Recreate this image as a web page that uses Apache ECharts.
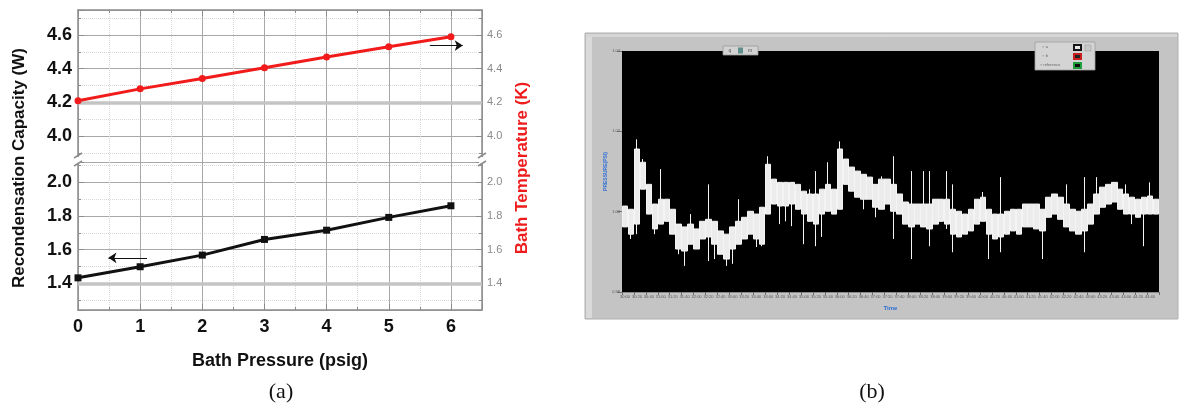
<!DOCTYPE html>
<html><head><meta charset="utf-8">
<script src="https://cdn.jsdelivr.net/npm/echarts@6/dist/echarts.min.js"></script>
<style>html,body{margin:0;padding:0;background:#fff}#c{width:1184px;height:405px}</style>
</head><body><div id="c"></div>
<script>
// ---------- Panel (a) data ----------
const pressure = [0, 1, 2, 3, 4, 5, 6];
const bathTemperature = [4.21, 4.28, 4.342, 4.405, 4.469, 4.53, 4.589];
const recondensation = [1.433, 1.499, 1.568, 1.661, 1.716, 1.792, 1.861];
const upperRange = [3.846, 4.748];
const lowerRange = [1.242, 2.121];
const arrowRight = [[5.66, 4.537], [6.19, 4.537]];
const arrowLeft = [[1.11, 1.552], [0.49, 1.552]];
const heavyGridUpper = 4.2, heavyGridLower = 1.4;

// ---------- Panel (b) data (binned trace: dense band + spikes) ----------
const bandLow = [0.9962,0.9944,0.9969,1.0056,0.9994,0.9957,0.9969,0.9976,0.9944,0.9907,
 0.9902,0.9919,0.9907,0.9932,0.9937,0.9919,0.9894,0.9882,0.9907,0.9919,
 0.9932,0.9944,0.9932,0.9919,0.9994,1.0019,1.0014,1.0014,1.0019,1.0006,
 0.9994,0.9976,0.9969,0.9994,1.0001,0.9994,1.0006,1.0068,1.0051,1.0036,
 1.0031,1.0031,1.0011,1.0006,1.0019,1.0001,0.9994,0.9969,0.9962,0.9969,
 0.9962,0.9957,0.9969,0.9976,0.9969,0.9944,0.9937,0.9944,0.9952,0.9969,
 0.9976,0.9944,0.9932,0.9937,0.9944,0.9952,0.9944,0.9962,0.9962,0.9957,
 0.9952,0.9986,0.9994,0.9981,0.9962,0.9952,0.9944,0.9952,0.9969,0.9994,
 1.0011,1.0019,1.0024,1.0006,0.9994,0.9994,0.9986,0.9994,0.9994,0.9994];
const bandHigh = [1.0014,1.0006,1.0156,1.0123,1.0068,1.0019,1.0031,1.0031,1.0006,0.9969,
 0.9962,0.9969,0.9957,0.9976,0.9981,0.9976,0.9952,0.9944,0.9962,0.9976,
 0.9986,1.0001,0.9994,1.0011,1.0118,1.0081,1.0073,1.0073,1.0073,1.0068,
 1.0051,1.0044,1.0044,1.0056,1.0068,1.0056,1.0156,1.0131,1.0111,1.0101,
 1.0093,1.0086,1.0068,1.0081,1.0081,1.0068,1.0044,1.0024,1.0019,1.0019,
 1.0019,1.0019,1.0031,1.0031,1.0031,1.0006,1.0001,0.9994,1.0006,1.0031,
 1.0036,1.0006,0.9994,0.9994,1.0001,1.0006,1.0006,1.0019,1.0019,1.0019,
 1.0006,1.0036,1.0044,1.0036,1.0019,1.0006,1.0001,1.0006,1.0019,1.0044,
 1.0061,1.0068,1.0073,1.0056,1.0044,1.0036,1.0031,1.0036,1.0039,1.0031];
const spikeLows = [[1,0.9932],[2,0.9944],[5,0.9944],[9,0.9894],[10,0.9865],[14,0.9877],[15,0.9882],
 [17,0.9865],[18,0.9870],[22,0.9912],[23,0.9914],[26,0.9969],[27,0.9976],[28,0.9964],[30,0.9919],
 [32,0.9914],[33,0.9937],[40,1.0006],[42,0.9986],[45,0.9932],[48,0.9882],[51,0.9914],[54,0.9957],
 [55,0.9899],[61,0.9882],[63,0.9899],[70,0.9882],[77,0.9899],[85,0.9969],[87,0.9914]];
const spikeHighs = [[2,1.0180],[3,1.0131],[6,1.0106],[11,0.9994],[14,1.0068],[19,1.0031],[24,1.0138],
 [31,1.0056],[32,1.0101],[34,1.0123],[36,1.0175],[43,1.0088],[45,1.0138],[48,1.0101],[50,1.0101],
 [51,1.0101],[54,1.0101],[55,1.0068],[60,1.0049],[63,1.0086],[74,1.0068],[77,1.0086],[79,1.0086],
 [84,1.0068],[88,1.0073]];
const pressureTicks = [0.98, 1.00, 1.02, 1.04];
const timeStart = 10 * 3600 + 30 * 60, timeStep = 10;

// ---------- build ----------
const timeLabels = bandLow.map((_, i) => {
  const s = timeStart + i * timeStep;
  const p = n => String(n).padStart(2, '0');
  return p(Math.floor(s / 60) % 60) + ':' + p(s % 60);
});
const sl = {}, sh = {};
spikeLows.forEach(([i, v]) => sl[i] = v);
spikeHighs.forEach(([i, v]) => sh[i] = v);
const candles = bandLow.map((lo, i) => {
  const hi = bandHigh[i];
  return [lo, hi, sl[i] !== undefined ? sl[i] : lo, sh[i] !== undefined ? sh[i] : hi];
});

const FONT = 'Liberation Sans';
const frameColor = '#8c8c8c';
const fmt02 = v => (Math.abs(v * 5 - Math.round(v * 5)) < 1e-6 ? v.toFixed(1) : '');
const fmtInt = v => (Math.abs(v - Math.round(v)) < 1e-6 ? String(Math.round(v)) : '');

function xA(grid, pos, labels) {
  return {
    gridIndex: grid, type: 'value', min: 0, max: 6.5, interval: 1, position: pos,
    axisLine: { show: true, onZero: false, lineStyle: { color: frameColor, width: 1.5 } },
    axisTick: { show: true, inside: true, length: 6, lineStyle: { color: frameColor } },
    minorTick: { show: true, splitNumber: 2, length: 3, lineStyle: { color: frameColor } },
    axisLabel: labels ? { show: true, formatter: fmtInt, showMaxLabel: false, fontFamily: FONT, fontWeight: 'bold', fontSize: 18, color: '#111', margin: 8 } : { show: false },
    splitLine: { show: true, lineStyle: { color: '#a8a8a8', width: 1 } },
    minorSplitLine: { show: true, lineStyle: { color: '#d8d8d8', type: 'dotted' } },
    name: labels ? 'Bath Pressure (psig)' : '', nameLocation: 'middle', nameGap: 42,
    nameTextStyle: { fontFamily: FONT, fontWeight: 'bold', fontSize: 18, color: '#111' }
  };
}
function yA(grid, pos, range, left) {
  return {
    gridIndex: grid, type: 'value', position: pos, min: range[0], max: range[1],
    minInterval: 0.2, maxInterval: 0.2,
    axisLine: { show: true, onZero: false, lineStyle: { color: frameColor, width: 1.5 } },
    axisTick: { show: true, inside: true, length: 6, lineStyle: { color: frameColor } },
    minorTick: { show: true, splitNumber: 2, length: 3, lineStyle: { color: frameColor } },
    axisLabel: left
      ? { formatter: fmt02, fontFamily: FONT, fontWeight: 'bold', fontSize: 18, color: '#111', margin: 6 }
      : { formatter: fmt02, fontFamily: FONT, fontSize: 11, color: '#8a8a8a', margin: 5 },
    splitLine: { show: left, lineStyle: { color: '#a8a8a8', width: 1 } },
    minorSplitLine: { show: left, lineStyle: { color: '#d8d8d8', type: 'dotted' } }
  };
}

const breakMarks = [];
[78, 482].forEach(x => {
  breakMarks.push({ type: 'rect', shape: { x: x - 3, y: 157, width: 6, height: 7 }, style: { fill: '#fff' }, z: 50 });
  breakMarks.push({ type: 'line', shape: { x1: x - 4, y1: 158, x2: x + 4, y2: 153 }, style: { stroke: frameColor, lineWidth: 1.5 }, z: 51 });
  breakMarks.push({ type: 'line', shape: { x1: x - 4, y1: 166, x2: x + 4, y2: 161 }, style: { stroke: frameColor, lineWidth: 1.5 }, z: 51 });
});

function txt(x, y, text, font, fill, rot) {
  return { type: 'text', x: x, y: y, rotation: rot || 0, z: 60,
    style: { text: text, font: font, fill: fill, textAlign: 'center', textVerticalAlign: 'middle', align: 'center', verticalAlign: 'middle' } };
}

const graphics = [
  // panel (b) frame
  { type: 'rect', shape: { x: 585, y: 33, width: 593, height: 286 }, style: { fill: '#c4c4c4', stroke: '#b0b0b0', lineWidth: 1 }, z: -10 },
  { type: 'rect', shape: { x: 586, y: 34, width: 6, height: 284 }, style: { fill: '#dadada' }, z: -9 },
  { type: 'rect', shape: { x: 586, y: 34, width: 591, height: 3 }, style: { fill: '#d6d6d6' }, z: -9 },
  // small toolbar
  { type: 'rect', shape: { x: 723, y: 46, width: 35, height: 9 }, style: { fill: '#d2d2d2', stroke: '#9a9a9a', lineWidth: 0.8 }, z: 40 },
  { type: 'rect', shape: { x: 738, y: 47.5, width: 5, height: 6 }, style: { fill: '#5f8f8a' }, z: 41 },
  txt(730, 51, 'q', '5px ' + FONT, '#555'),
  txt(750, 51, 'm', '5px ' + FONT, '#555'),
  // legend box
  { type: 'rect', shape: { x: 1035, y: 42, width: 60, height: 28 }, style: { fill: '#d4d4d4', stroke: '#a0a0a0', lineWidth: 0.8 }, z: 40 },
  { type: 'rect', shape: { x: 1073, y: 44, width: 9, height: 7 }, style: { fill: '#151515' }, z: 41 },
  { type: 'rect', shape: { x: 1075, y: 46, width: 5, height: 3 }, style: { fill: '#e8e8e8' }, z: 42 },
  { type: 'rect', shape: { x: 1073, y: 53, width: 9, height: 7 }, style: { fill: '#c81e1e' }, z: 41 },
  { type: 'rect', shape: { x: 1075, y: 55, width: 5, height: 3 }, style: { fill: '#222' }, z: 42 },
  { type: 'rect', shape: { x: 1073, y: 62, width: 9, height: 7 }, style: { fill: '#1f9e3c' }, z: 41 },
  { type: 'rect', shape: { x: 1075, y: 64, width: 5, height: 3 }, style: { fill: '#111' }, z: 42 },
  { type: 'rect', shape: { x: 1085, y: 45, width: 6, height: 6 }, style: { fill: '#c8c8c8', stroke: '#999', lineWidth: 0.5 }, z: 41 },
  txt(1045, 47, '○ a', '4px ' + FONT, '#666'),
  txt(1045, 56, '○ b', '4px ' + FONT, '#666'),
  txt(1050, 65, '○ reference', '4px ' + FONT, '#666'),
  // titles and captions
  txt(19, 168, 'Recondensation Capacity (W)', 'bold 17px ' + FONT, '#111', Math.PI / 2),
  txt(522, 168, 'Bath Temperature (K)', 'bold 17px ' + FONT, '#ee1c1c', Math.PI / 2),
  txt(281, 392, '(a)', '22px "Liberation Serif"', '#111'),
  txt(872, 392, '(b)', '22px "Liberation Serif"', '#111')
].concat(breakMarks);

const heavyLine = v => ({
  silent: true, symbol: 'none', z: 1, label: { show: false },
  lineStyle: { color: '#c4c4c4', width: 3.5, type: 'solid' },
  data: [{ yAxis: v }]
});
const arrowSeries = (xi, yi, seg) => ({
  type: 'lines', coordinateSystem: 'cartesian2d', xAxisIndex: xi, yAxisIndex: yi, z: 8,
  symbol: ['none', 'arrow'], symbolSize: [6, 8], silent: true,
  lineStyle: { color: '#111', width: 1, opacity: 1 },
  data: [{ coords: seg }]
});

const chart = echarts.init(document.getElementById('c'), null, { renderer: 'canvas' });
chart.setOption({
  animation: false,
  backgroundColor: '#fff',
  grid: [
    { left: 78, top: 10, width: 404, height: 152 },
    { left: 78, top: 162, width: 404, height: 148 },
    { left: 622, top: 51, width: 537, height: 241, show: true, backgroundColor: '#000', borderWidth: 0, z: 1 }
  ],
  xAxis: [
    xA(0, 'top', false),
    xA(1, 'bottom', true),
    {
      gridIndex: 2, type: 'category', data: timeLabels, boundaryGap: true,
      axisLine: { show: true, lineStyle: { color: '#8a8a8a' } },
      axisTick: { show: true, interval: 1, length: 3, lineStyle: { color: '#6a6a6a' } },
      axisLabel: { interval: 1, fontSize: 4, color: '#555', margin: 3, fontFamily: FONT },
      splitLine: { show: false },
      name: 'Time', nameLocation: 'middle', nameGap: 13,
      nameTextStyle: { color: '#2f6fd6', fontSize: 6, fontWeight: 'bold', fontFamily: FONT }
    }
  ],
  yAxis: [
    yA(0, 'left', upperRange, true),
    yA(0, 'right', upperRange, false),
    yA(1, 'left', lowerRange, true),
    yA(1, 'right', lowerRange, false),
    {
      gridIndex: 2, type: 'value', min: pressureTicks[0], max: pressureTicks[pressureTicks.length - 1], interval: 0.02,
      axisLine: { show: true, lineStyle: { color: '#8a8a8a' } },
      axisTick: { show: true, length: 5, lineStyle: { color: '#777' } },
      axisLabel: { fontSize: 4, color: '#555', margin: 2, formatter: v => v.toFixed(2), fontFamily: FONT },
      splitLine: { show: false },
      name: 'PRESSURE(PSI)', nameLocation: 'middle', nameGap: 12, nameRotate: 90,
      nameTextStyle: { color: '#2f6fd6', fontSize: 5, fontWeight: 'bold', fontFamily: FONT }
    }
  ],
  series: [
    {
      name: 'Bath Temperature', type: 'line', xAxisIndex: 0, yAxisIndex: 1,
      data: pressure.map((p, i) => [p, bathTemperature[i]]),
      symbol: 'circle', symbolSize: 7, z: 10,
      lineStyle: { color: '#f21b1b', width: 3 }, itemStyle: { color: '#f21b1b' },
      markLine: heavyLine(heavyGridUpper)
    },
    {
      name: 'Recondensation Capacity', type: 'line', xAxisIndex: 1, yAxisIndex: 2,
      data: pressure.map((p, i) => [p, recondensation[i]]),
      symbol: 'rect', symbolSize: 7, z: 10,
      lineStyle: { color: '#111', width: 3 }, itemStyle: { color: '#111' },
      markLine: heavyLine(heavyGridLower)
    },
    arrowSeries(0, 1, arrowRight),
    arrowSeries(1, 2, arrowLeft),
    {
      name: 'Pressure', type: 'candlestick', xAxisIndex: 2, yAxisIndex: 4,
      data: candles, barWidth: 6, z: 5,
      itemStyle: { color: '#ececec', color0: '#ececec', borderColor: '#f4f4f4', borderColor0: '#f4f4f4', borderWidth: 1 }
    }
  ],
  graphic: graphics
});
</script></body></html>
